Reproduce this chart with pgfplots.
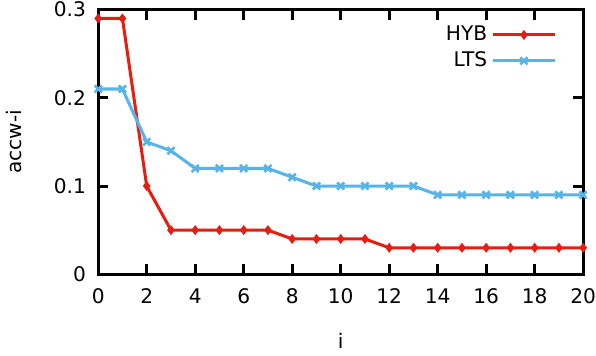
\documentclass[border=0pt]{standalone}
\usepackage{fontspec}
\setmainfont{DejaVu Sans}
\usepackage{pgfplots}
\pgfplotsset{compat=1.18}
\definecolor{hyb}{RGB}{229,30,16}
\definecolor{lts}{RGB}{86,180,233}
\begin{document}
\begin{tikzpicture}
\begin{axis}[
  scale only axis,
  width=241pt, height=131.5pt,
  xmin=0, xmax=20, ymin=0, ymax=0.3,
  xtick={0,2,...,20},
  ytick={0,0.1,0.2,0.3},
  yticklabel style={/pgf/number format/fixed, inner ysep=1pt, xshift=-2.6pt},
  xticklabel style={inner xsep=0pt, yshift=-3.5pt},
  /pgf/number format/assume math mode=true,
  tick align=inside,
  major tick length=5pt,
  tick style={black, line width=1.5pt},
  axis line style={line width=1.5pt},
  xlabel={i}, ylabel={accw-i},
  xlabel style={at={(axis description cs:0.5,0)}, anchor=center, yshift=-33pt},
  ylabel style={at={(axis description cs:0,0.5)}, anchor=north, yshift=49pt},
  legend style={draw=none, fill=none, inner sep=0pt, at={(1,1)}, anchor=north east,
    xshift=-13pt, yshift=-6pt, row sep=0pt},
  legend cell align=right,
  legend plot pos=right,
  legend image code/.code={
    \draw[mark repeat=2,mark phase=2] plot coordinates {(0pt,0pt) (15.5pt,0pt) (31pt,0pt)};},
]
\addplot[color=hyb, line width=1.5pt, mark=diamond*, mark size=2.1pt, mark options={line width=0.5pt}] coordinates {
(0,0.29)(1,0.29)(2,0.10)(3,0.05)(4,0.05)(5,0.05)(6,0.05)(7,0.05)(8,0.04)(9,0.04)(10,0.04)
(11,0.04)(12,0.03)(13,0.03)(14,0.03)(15,0.03)(16,0.03)(17,0.03)(18,0.03)(19,0.03)(20,0.03)};
\addlegendentry{HYB}
\addplot[color=lts, line width=1.5pt, mark=x, mark size=2.5pt, mark options={line width=1.3pt}] coordinates {
(0,0.21)(1,0.21)(2,0.15)(3,0.14)(4,0.12)(5,0.12)(6,0.12)(7,0.12)(8,0.11)(9,0.10)(10,0.10)
(11,0.10)(12,0.10)(13,0.10)(14,0.09)(15,0.09)(16,0.09)(17,0.09)(18,0.09)(19,0.09)(20,0.09)};
\addlegendentry{LTS}
\end{axis}
\end{tikzpicture}
\end{document}
